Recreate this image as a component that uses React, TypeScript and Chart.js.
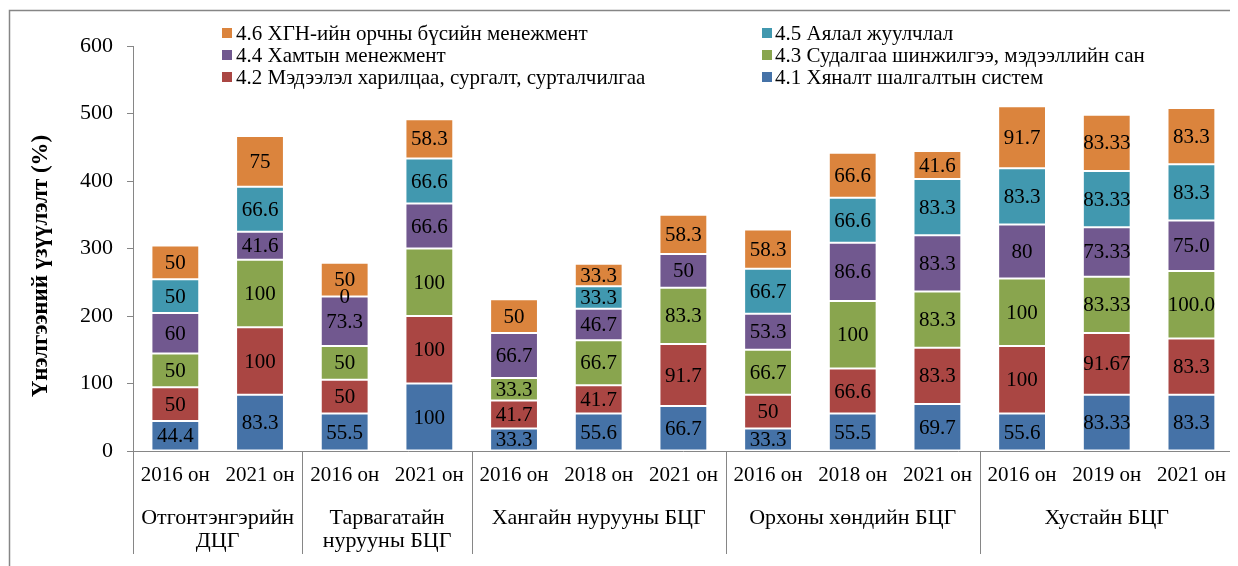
import React, { useEffect, useRef } from "react";
import { Chart, registerables } from "chart.js";

Chart.register(...registerables);

const FONT = '"Liberation Serif", "Times New Roman", serif';

const categories = [
  "2016 он", "2021 он",
  "2016 он", "2021 он",
  "2016 он", "2018 он", "2021 он",
  "2016 он", "2018 он", "2021 он",
  "2016 он", "2019 он", "2021 он",
];

const groupNames = [
  ["Отгонтэнгэрийн", "ДЦГ"],
  ["Тарвагатайн", "нурууны БЦГ"],
  ["Хангайн нурууны БЦГ"],
  ["Орхоны хөндийн БЦГ"],
  ["Хустайн БЦГ"],
];
const groupSizes = [2, 2, 3, 3, 3];

const seriesNames = [
  "4.1 Хяналт шалгалтын систем",
  "4.2 Мэдээлэл харилцаа, сургалт, сурталчилгаа",
  "4.3 Судалгаа шинжилгээ, мэдээллийн сан",
  "4.4 Хамтын менежмент",
  "4.5 Аялал жуулчлал",
  "4.6 ХГН-ийн орчны бүсийн менежмент",
];

const s41 = ["44.4", "83.3", "55.5", "100", "33.3", "55.6", "66.7", "33.3", "55.5", "69.7", "55.6", "83.33", "83.3"];
const s42 = ["50", "100", "50", "100", "41.7", "41.7", "91.7", "50", "66.6", "83.3", "100", "91.67", "83.3"];
const s43 = ["50", "100", "50", "100", "33.3", "66.7", "83.3", "66.7", "100", "83.3", "100", "83.33", "100.0"];
const s44 = ["60", "41.6", "73.3", "66.6", "66.7", "46.7", "50", "53.3", "86.6", "83.3", "80", "73.33", "75.0"];
const s45 = ["50", "66.6", "0", "66.6", null, "33.3", null, "66.7", "66.6", "83.3", "83.3", "83.33", "83.3"];
const s46 = ["50", "75", "50", "58.3", "50", "33.3", "58.3", "58.3", "66.6", "41.6", "91.7", "83.33", "83.3"];

const seriesValues = [s41, s42, s43, s44, s45, s46];
const seriesColors = ["#4572A7", "#AA4643", "#89A54E", "#71588F", "#4198AF", "#DB843D"];

const yMin = 0;
const yMax = 600;
const yStep = 100;
const yTitle = "Үнэлгээний үзүүлэлт (%)";

const AXIS_COLOR = "#868686";

const customPlugin = {
  id: "customDraw",
  beforeDraw(chart: any) {
    const ctx = chart.ctx;
    ctx.save();
    ctx.strokeStyle = AXIS_COLOR;
    ctx.lineWidth = 1.5;
    ctx.beginPath();
    ctx.moveTo(1.5, chart.height + 10);
    ctx.lineTo(1.5, 2.5);
    ctx.lineTo(chart.width + 10, 2.5);
    ctx.stroke();
    ctx.restore();
  },
  afterDatasetsDraw(chart: any) {
    const ctx = chart.ctx;
    ctx.save();
    ctx.font = `21px ${FONT}`;
    ctx.fillStyle = "#000";
    ctx.textAlign = "center";
    ctx.textBaseline = "middle";
    chart.data.datasets.forEach((ds: any, di: number) => {
      const meta = chart.getDatasetMeta(di);
      meta.data.forEach((el: any, i: number) => {
        const txt = seriesValues[di][i];
        if (txt === null || txt === undefined) return;
        const p = el.getProps(["x", "y", "base"], true);
        ctx.fillText(txt, p.x, (p.y + p.base) / 2 + 1);
      });
    });
    ctx.restore();
  },
  afterDraw(chart: any) {
    const ctx = chart.ctx;
    const area = chart.chartArea;
    ctx.save();
    // group separators and labels
    const n = categories.length;
    const w = (area.right - area.left) / n;
    ctx.strokeStyle = AXIS_COLOR;
    ctx.lineWidth = 1;
    let k = 0;
    const bounds = [0];
    groupSizes.forEach((s) => {
      k += s;
      bounds.push(k);
    });
    bounds.forEach((b) => {
      const px = Math.round(area.left + b * w) + 0.5;
      ctx.beginPath();
      ctx.moveTo(px, area.bottom);
      ctx.lineTo(px, area.bottom + 103);
      ctx.stroke();
    });
    ctx.font = `22px ${FONT}`;
    ctx.fillStyle = "#000";
    ctx.textAlign = "center";
    ctx.textBaseline = "middle";
    groupNames.forEach((lines, gi) => {
      const cx = area.left + ((bounds[gi] + bounds[gi + 1]) / 2) * w;
      lines.forEach((ln, li) => {
        ctx.fillText(ln, cx, area.bottom + 67 + li * 23);
      });
    });
    // legend
    const rows = [[5, 4], [3, 2], [1, 0]];
    const colMarker = [214, 754];
    const colText = [228, 767];
    const rowY = [25, 47, 69];
    ctx.font = `21px ${FONT}`;
    ctx.textAlign = "left";
    rows.forEach((r, ri) => {
      r.forEach((si, ci) => {
        ctx.fillStyle = seriesColors[si];
        ctx.fillRect(colMarker[ci], rowY[ri] - 5, 10, 10);
        ctx.fillStyle = "#000";
        ctx.fillText(seriesNames[si], colText[ci], rowY[ri] + 1);
      });
    });
    // y title
    ctx.save();
    ctx.translate(33, 258);
    ctx.rotate(-Math.PI / 2);
    ctx.font = `bold 23px ${FONT}`;
    ctx.textAlign = "center";
    ctx.textBaseline = "middle";
    ctx.fillText(yTitle, 0, 0);
    ctx.restore();
    ctx.restore();
  },
};

export default function App() {
  const ref = useRef<HTMLCanvasElement>(null);
  useEffect(() => {
    if (!ref.current) return;
    const chart = new Chart(ref.current, {
      type: "bar",
      data: {
        labels: categories,
        datasets: seriesNames.map((name, i) => ({
          label: name,
          data: seriesValues[i].map((v) => (v === null ? null : parseFloat(v))),
          backgroundColor: seriesColors[i],
          borderColor: "rgba(255,255,255,0.35)",
          borderWidth: 1,
          borderSkipped: false,
          categoryPercentage: 1,
          barPercentage: 0.565,
        })),
      },
      options: {
        responsive: false,
        devicePixelRatio: 1,
        animation: false,
        layout: { padding: { left: 0, right: 2, top: 38, bottom: 0 } },
        plugins: {
          legend: { display: false },
          tooltip: { enabled: false },
        },
        scales: {
          x: {
            stacked: true,
            grid: { display: false, drawTicks: false },
            border: { display: true, color: AXIS_COLOR, width: 1 },
            ticks: {
              color: "#000",
              font: { family: FONT, size: 21 },
              padding: 12,
              maxRotation: 0,
              autoSkip: false,
            },
            afterFit: (s: any) => {
              s.height = 115;
            },
          },
          y: {
            stacked: true,
            min: yMin,
            max: yMax,
            grid: {
              drawOnChartArea: false,
              drawTicks: true,
              tickLength: 6,
              color: AXIS_COLOR,
            },
            border: { display: true, color: AXIS_COLOR, width: 1 },
            ticks: {
              stepSize: yStep,
              color: "#000",
              font: { family: FONT, size: 22 },
              padding: 14,
            },
            afterFit: (s: any) => {
              s.width = 125;
            },
          },
        },
      },
      plugins: [customPlugin],
    });
    return () => chart.destroy();
  }, []);
  return (
    <div>
      <canvas ref={ref} width={1230} height={558} style={{ display: "block" }} />
    </div>
  );
}
